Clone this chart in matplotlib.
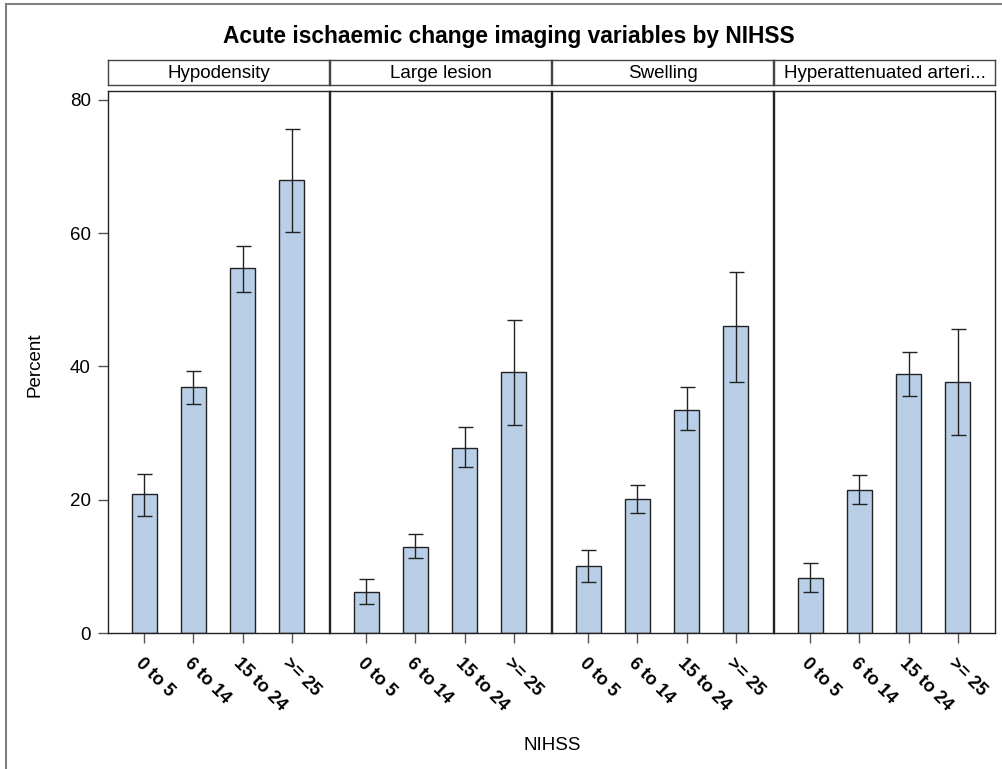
import numpy as np
import matplotlib
matplotlib.use("Agg")
import matplotlib.pyplot as plt
from matplotlib.lines import Line2D

plt.rcParams['font.family'] = ['Liberation Sans', 'DejaVu Sans']

# data
panels = ['Hypodensity', 'Large lesion', 'Swelling', 'Hyperattenuated arteri...']
groups = ['0 to 5', '6 to 14', '15 to 24', '>= 25']

pct_hypo = [20.9, 36.9, 54.7, 68.0]
lo_hypo = [17.5, 34.3, 51.1, 60.2]
hi_hypo = [23.9, 39.3, 58.1, 75.6]

pct_large = [6.2, 12.9, 27.8, 39.1]
lo_large = [4.3, 11.2, 24.9, 31.2]
hi_large = [8.1, 14.8, 30.9, 47.0]

pct_swell = [10.1, 20.1, 33.5, 46.0]
lo_swell = [7.7, 18.0, 30.4, 37.6]
hi_swell = [12.4, 22.2, 36.9, 54.2]

pct_hyper = [8.3, 21.5, 38.9, 37.7]
lo_hyper = [6.2, 19.4, 35.5, 29.7]
hi_hyper = [10.5, 23.7, 42.2, 45.6]

pct = [pct_hypo, pct_large, pct_swell, pct_hyper]
lo = [lo_hypo, lo_large, lo_swell, lo_hyper]
hi = [hi_hypo, hi_large, hi_swell, hi_hyper]

W, H = 1002, 769
fig = plt.figure(figsize=(W / 100, H / 100), dpi=100)

bar_col = '#b9cfe7'
left0 = 108
pw = 222
top_px, bot_px = 91, 633
hdr_top, hdr_bot = 59.5, 84.5

x = np.arange(len(groups))
for i, name in enumerate(panels):
    l = left0 + i * pw
    ax = fig.add_axes([l / W, 1 - bot_px / H, (pw - 1) / W, (bot_px - top_px) / H])
    p = np.array(pct[i])
    err = [p - np.array(lo[i]), np.array(hi[i]) - p]
    ax.bar(x, p, width=0.5, color=bar_col, edgecolor='#222222', linewidth=1.0, zorder=2)
    ax.errorbar(x, p, yerr=err, fmt='none', ecolor='#222222', elinewidth=1.0,
                capsize=5.4, capthick=1.0, zorder=3)
    ax.set_xlim(-0.74, 3.76)
    ax.set_ylim(0, 81.3)
    ax.set_xticks(x)
    ax.set_xticklabels(groups, rotation=-45, ha='left', va='top',
                       rotation_mode='anchor', fontsize=13, fontweight='bold')
    ax.tick_params(axis='x', direction='out', length=7.5, width=1, color='#555555', pad=8)
    if i == 0:
        ax.set_yticks([0, 20, 40, 60, 80])
        ax.tick_params(axis='y', direction='out', length=7.5, width=1, color='#555555',
                       labelsize=13.5, pad=5)
    else:
        ax.set_yticks([])
    for s in ax.spines.values():
        s.set_linewidth(1.0)
        s.set_color('#222222')

    hx = fig.add_axes([l / W, 1 - hdr_bot / H, (pw - 1) / W, (hdr_bot - hdr_top) / H])
    hx.set_xticks([])
    hx.set_yticks([])
    for s in hx.spines.values():
        s.set_linewidth(1.0)
        s.set_color('#444444')
    hx.text(0.5, 0.45, name, ha='center', va='center', fontsize=13.5, transform=hx.transAxes)

fig.text(509 / W, 1 - 37 / H, 'Acute ischaemic change imaging variables by NIHSS',
         ha='center', va='center', fontsize=16.4, fontweight='bold')
fig.text(552 / W, 1 - 745 / H, 'NIHSS', ha='center', va='center', fontsize=13.5)
fig.text(35 / W, 1 - 365 / H, 'Percent', ha='center', va='center', fontsize=13.5,
         rotation=90)

# outer frame (top and left edges visible)
fig.add_artist(Line2D([5.5 / W, 1.0], [1 - 4 / H, 1 - 4 / H], color='#808080', lw=1.5))
fig.add_artist(Line2D([5.5 / W, 5.5 / W], [0, 1 - 4 / H], color='#808080', lw=1.5))

fig.savefig('out.png', dpi=100)
